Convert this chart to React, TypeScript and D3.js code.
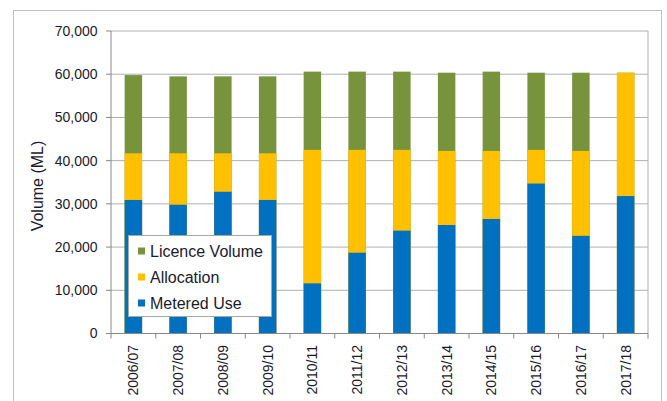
import React from 'react';
import * as d3 from 'd3';

const years = ['2006/07', '2007/08', '2008/09', '2009/10', '2010/11', '2011/12', '2012/13', '2013/14', '2014/15', '2015/16', '2016/17', '2017/18'];
const licenceVolume = [59800, 59500, 59500, 59500, 60600, 60600, 60600, 60350, 60600, 60350, 60350, 60350];
const allocation = [41700, 41700, 41700, 41700, 42500, 42500, 42500, 42250, 42250, 42500, 42250, 60350];
const meteredUse = [30900, 29800, 32800, 30900, 11600, 18700, 23800, 25100, 26500, 34700, 22600, 31800];
const yTicks = [0, 10000, 20000, 30000, 40000, 50000, 60000, 70000];

const series = [
  { name: 'Licence Volume', values: licenceVolume, color: '#77933c' },
  { name: 'Allocation', values: allocation, color: '#ffc000' },
  { name: 'Metered Use', values: meteredUse, color: '#0070c0' },
];

const W = 667;
const H = 401;
const left = 111;
const right = 648;
const top = 31;
const bottom = 333.5;
const font = 'Liberation Sans, Arial, sans-serif';

const App = () => {
  const x = d3.scaleBand().domain(years).range([left, right]).paddingInner(0.61).paddingOuter(0.305);
  const xb = d3.scaleBand().domain(years).range([left, right]);
  const y = d3.scaleLinear().domain([0, 70000]).range([bottom, top]);
  const fmt = d3.format(',');

  return (
    <svg width={W} height={H} style={{ position: 'absolute', left: 0, top: 0 }} fontFamily={font}>
      <rect x={13.5} y={10.5} width={648} height={400} fill="#fff" stroke="#bfbfbf" />
      {yTicks.map((t) => (
        <g key={t}>
          {t > 0 && <line x1={left} x2={right} y1={y(t)} y2={y(t)} stroke="#b0b0b0" strokeWidth={1} />}
          <line x1={left - 5} x2={left} y1={y(t)} y2={y(t)} stroke="#888" />
          <text x={97.5} y={y(t)} dy="0.35em" textAnchor="end" fontSize={14} fill="#1a1a2e">{fmt(t)}</text>
        </g>
      ))}
      <line x1={right} x2={right} y1={top} y2={bottom} stroke="#b0b0b0" />
      {series.map((s) => (
        <g key={s.name}>
          {s.values.map((v, i) => (
            <rect key={i} x={x(years[i])} width={x.bandwidth()} y={y(v)} height={bottom - y(v)} fill={s.color} />
          ))}
        </g>
      ))}
      <line x1={left} x2={left} y1={top} y2={bottom} stroke="#888" />
      <line x1={left} x2={right} y1={bottom} y2={bottom} stroke="#888" />
      {years.map((yr, i) => (
        <line key={yr} x1={left + xb.bandwidth() * (i + 1)} x2={left + xb.bandwidth() * (i + 1)} y1={bottom} y2={bottom + 5} stroke="#888" />
      ))}
      <line x1={left} x2={left} y1={bottom} y2={bottom + 5} stroke="#888" />
      {years.map((yr) => {
        const cx = (xb(yr) as number) + xb.bandwidth() / 2;
        return (
          <text key={yr} transform={`translate(${cx + 5},345) rotate(-90)`} textAnchor="end" fontSize={14} fill="#1a1a2e">{yr}</text>
        );
      })}
      <text transform={`translate(43,186) rotate(-90)`} textAnchor="middle" fontSize={16} fill="#1a1a2e">Volume (ML)</text>
      <rect x={128.5} y={235.5} width={143} height={81} fill="#fff" stroke="#a6a6a6" />
      {series.map((s, i) => (
        <g key={s.name} transform={`translate(138,${251 + i * 26})`}>
          <rect x={0} y={-3.5} width={7} height={7} fill={s.color} />
          <text x={12} y={0} dy="0.35em" fontSize={16} fill="#1a1a2e">{s.name}</text>
        </g>
      ))}
    </svg>
  );
};

export default App;
